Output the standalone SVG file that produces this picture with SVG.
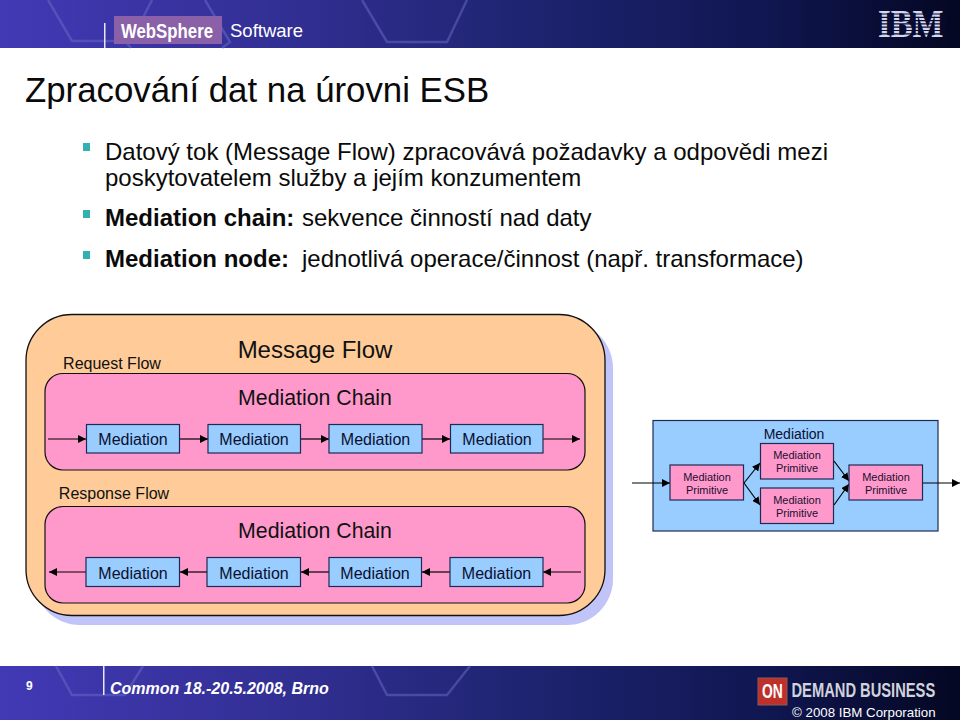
<svg xmlns="http://www.w3.org/2000/svg" width="960" height="720" viewBox="0 0 960 720">
<defs>
<linearGradient id="band" x1="0" x2="1" y1="0" y2="0"><stop offset="0" stop-color="#4239b5"/><stop offset="0.3" stop-color="#322f93"/><stop offset="0.55" stop-color="#1e2470"/><stop offset="0.8" stop-color="#101650"/><stop offset="1" stop-color="#040722"/></linearGradient>
<marker id="ah" viewBox="0 0 10 10" refX="10" refY="5" markerWidth="8" markerHeight="8" markerUnits="userSpaceOnUse" orient="auto"><path d="M0 0L10 5L0 10Z" fill="#000"/></marker>
<style>
text{font-family:"Liberation Sans",Arial,sans-serif}
.b{font-size:24px;fill:#0a0a0a}
.h{font-weight:700}
.m{font-size:16px;text-anchor:middle;fill:#0a1030}
.p{font-size:11px;text-anchor:middle;fill:#1a1030}
.box{fill:#99ccff;stroke:#1d2a55;stroke-width:1.2}
.pbox{fill:#ff99cc;stroke:#1d2a55;stroke-width:1.2}
.chain{fill:#ff99cc;stroke:#111;stroke-width:1.2}
.c{stroke:#000;stroke-width:1.2;fill:none;marker-end:url(#ah)}
.hex{fill:none;stroke:#6a6cc8;stroke-width:2.5;opacity:.5}
</style>
</defs>
<g id="header">
<rect width="960" height="48" fill="url(#band)"/>
<path class="hex" d="M48 0L72 41H125L131 48M152 0L131 41M205 0L230 42L222 48M467 0L447 42H387L362 0"/>
<rect x="104" y="23" width="1.500" height="25" fill="#e8e8f5"/>
<rect x="114" y="16" width="108" height="28" fill="#8a60a8"/>
<text x="121" y="38" font-size="20" font-weight="700" fill="#fff" textLength="92" lengthAdjust="spacingAndGlyphs">WebSphere</text>
<text x="230" y="37" font-size="18.500" fill="#fff">Software</text>
<g id="ibm-logo">
<text transform="translate(878,37) scale(0.84,1)" font-size="39" font-weight="700" style="font-family:'Liberation Serif',serif" fill="#d4d7ee">IBM</text>
<path d="M876 14H946M876 17.300H946M876 20.600H946M876 23.900H946M876 27.200H946M876 30.500H946M876 33.800H946" stroke="#080b32" stroke-width="1.200"/>
</g>
</g>
<text x="25" y="102" font-size="34.800" fill="#0a0a0a">Zpracování dat na úrovni ESB</text>
<g id="bullets">
<g fill="#33b0b0"><rect x="83" y="143" width="7" height="8"/><rect x="83" y="210" width="7" height="8"/><rect x="83" y="251" width="7" height="8"/></g>
<text x="105" y="160" class="b">Datový tok (Message Flow) zpracovává požadavky a odpovědi mezi</text>
<text x="105" y="186" class="b">poskytovatelem služby a jejím konzumentem</text>
<text x="105" y="226" class="b"><tspan class="h">Mediation chain:</tspan><tspan x="302">sekvence činností nad daty</tspan></text>
<text x="105" y="267" class="b"><tspan class="h">Mediation node:</tspan><tspan x="302">jednotlivá operace/činnost (např. transformace)</tspan></text>
</g>
<g id="message-flow">
<rect x="34" y="322" width="579" height="303" rx="46" fill="#c0c4f8"/>
<rect x="26" y="314.500" width="579" height="301" rx="46" fill="#ffcc99" stroke="#111" stroke-width="1.300"/>
<text x="112" y="368.500" font-size="16" text-anchor="middle" fill="#111">Request Flow</text>
<text x="315" y="358" font-size="24" text-anchor="middle" fill="#111">Message Flow</text>
<text x="114" y="499" font-size="16" text-anchor="middle" fill="#111">Response Flow</text>
</g>
<g id="request-chain">
<rect class="chain" x="45" y="373.500" width="540" height="96.500" rx="18"/>
<text x="315" y="405" font-size="21.300" text-anchor="middle" fill="#111">Mediation Chain</text>
</g>
<g id="response-chain">
<rect class="chain" x="45" y="506.500" width="540" height="96.500" rx="18"/>
<text x="315" y="538" font-size="21.300" text-anchor="middle" fill="#111">Mediation Chain</text>
</g>
<g id="mediation-detail">
<rect x="653" y="420.500" width="285" height="110.500" fill="#99ccff" stroke="#1d2a55" stroke-width="1.200"/>
<text x="794" y="439" font-size="14" text-anchor="middle" fill="#0a1030">Mediation</text>
</g>
<g id="connectors">
<path class="c" d="M48 439H86"/><path class="c" d="M180 439H208"/><path class="c" d="M301 439H329"/><path class="c" d="M422 439H450"/><path class="c" d="M543 439H580"/>
<path class="c" d="M581 572H543"/><path class="c" d="M450 572H422"/><path class="c" d="M329 572H301"/><path class="c" d="M207 572H180"/><path class="c" d="M86 572H49"/>
<path class="c" d="M632 483H670"/><path class="c" d="M744 483L760 463"/><path class="c" d="M744 483L760 505"/><path class="c" d="M834 461L849 481"/><path class="c" d="M834 505L849 484"/><path class="c" d="M922 483H960"/>
</g>
<g id="req-1"><rect class="box" x="86.500" y="424.500" width="93" height="28.500"/><text class="m" x="133" y="445">Mediation</text></g>
<g id="req-2"><rect class="box" x="208" y="424.500" width="92.500" height="28.500"/><text class="m" x="254" y="445">Mediation</text></g>
<g id="req-3"><rect class="box" x="329" y="424.500" width="93" height="28.500"/><text class="m" x="375.500" y="445">Mediation</text></g>
<g id="req-4"><rect class="box" x="450.500" y="424.500" width="92.500" height="28.500"/><text class="m" x="497" y="445">Mediation</text></g>
<g id="res-1"><rect class="box" x="86" y="557.500" width="93.500" height="29"/><text class="m" x="133" y="578.500">Mediation</text></g>
<g id="res-2"><rect class="box" x="207" y="557.500" width="93.500" height="29"/><text class="m" x="254" y="578.500">Mediation</text></g>
<g id="res-3"><rect class="box" x="329" y="557.500" width="92.500" height="29"/><text class="m" x="375" y="578.500">Mediation</text></g>
<g id="res-4"><rect class="box" x="450" y="557.500" width="93" height="29"/><text class="m" x="496.500" y="578.500">Mediation</text></g>
<g id="prim-1"><rect class="pbox" x="670" y="465" width="73.500" height="35"/><text class="p" x="707" y="481">Mediation</text><text class="p" x="707" y="494">Primitive</text></g>
<g id="prim-2"><rect class="pbox" x="760.500" y="443.500" width="73" height="35.500"/><text class="p" x="797" y="459">Mediation</text><text class="p" x="797" y="472">Primitive</text></g>
<g id="prim-3"><rect class="pbox" x="760.500" y="488" width="73" height="35.500"/><text class="p" x="797" y="504">Mediation</text><text class="p" x="797" y="517">Primitive</text></g>
<g id="prim-4"><rect class="pbox" x="849" y="465" width="73.500" height="35"/><text class="p" x="886" y="481">Mediation</text><text class="p" x="886" y="494">Primitive</text></g>
<g id="footer">
<rect y="666" width="960" height="54" fill="url(#band)"/>
<path class="hex" d="M56 666L72 695H125L143 666M470 666L447 695H387L372 666"/>
<rect x="103" y="666" width="1.500" height="29" fill="#e8e8f5"/>
<text x="26" y="690" font-size="12" font-weight="700" fill="#fff">9</text>
<text x="110" y="694" font-size="16" font-weight="700" font-style="italic" fill="#fff">Common 18.-20.5.2008, Brno</text>
<rect x="758" y="678" width="29" height="27" fill="#c0302a" stroke="#8a5a5a"/>
<text transform="translate(762,698) scale(0.66,1)" font-size="21" font-weight="700" fill="#fff">ON</text>
<text transform="translate(791.500,697) scale(0.735,1)" font-size="20" font-weight="700" fill="#d0d2dc">DEMAND BUSINESS</text>
<text x="792" y="717" font-size="13.300" fill="#fff">© 2008 IBM Corporation</text>
</g>
</svg>
